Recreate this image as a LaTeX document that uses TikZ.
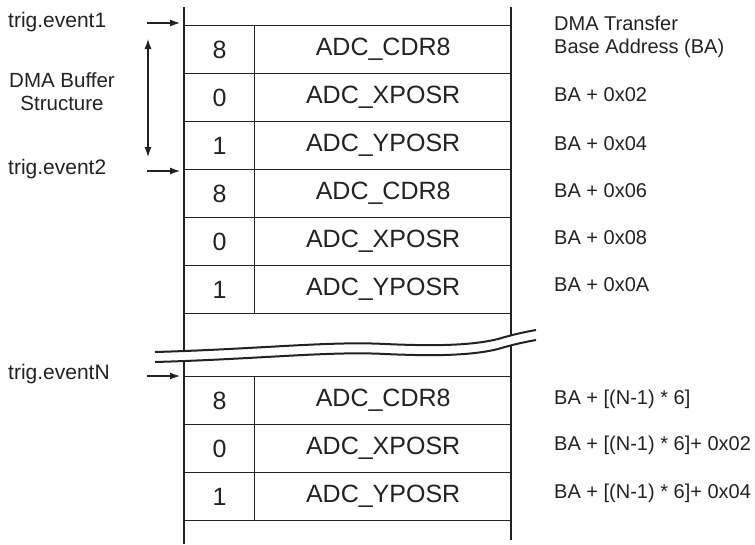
\documentclass[tikz,border=0pt]{standalone}
\usepackage{fontspec}
\setmainfont{Liberation Sans}
\usetikzlibrary{arrows.meta}
\definecolor{ink}{HTML}{222222}
\begin{document}
\begin{tikzpicture}[x=1pt,y=-1pt,
  numcell/.style={draw=ink, line width=1.3pt, minimum width=70pt, minimum height=48pt,
    inner sep=0pt, anchor=north west, font=\fontsize{25}{29}\selectfont, text=ink},
  namecell/.style={numcell, minimum width=257pt},
  lbl/.style={anchor=west, font=\fontsize{21}{25}\selectfont, text=ink, inner sep=0pt},
  rlbl/.style={lbl, font=\fontsize{20}{24}\selectfont},
  evarrow/.style={-{Latex[length=10pt,width=7pt]}, line width=1.1pt, draw=ink},
  rail/.style={line width=2.2pt, draw=ink},
  wave/.style={line width=2pt, draw=ink}]
\useasboundingbox (0,0) rectangle (755,544);

% top block
\foreach \i/\n/\t in {0/8/ADC\_CDR8,1/0/ADC\_XPOSR,2/1/ADC\_YPOSR,3/8/ADC\_CDR8,4/0/ADC\_XPOSR,5/1/ADC\_YPOSR}{
  \node[numcell] (n\i) at (184,25+48*\i) {\n};
  \node[namecell] (c\i) at (254,25+48*\i) {\t};
}
% bottom block
\foreach \i/\n/\t in {0/8/ADC\_CDR8,1/0/ADC\_XPOSR,2/1/ADC\_YPOSR}{
  \node[numcell] (m\i) at (184,376+48*\i) {\n};
  \node[namecell] (d\i) at (254,376+48*\i) {\t};
}

% rails
\coordinate (lt) at (184,7);
\coordinate (lb) at (184,544);
\coordinate (rt) at (511,7);
\coordinate (rb) at (511,540);
\draw[rail] (lt) -- (lb);
\draw[rail] (rt) -- (rb);

% break
\fill[white] (155,352) .. controls (260,349) and (330,341) .. (385,344)
  .. controls (430,346) and (470,346) .. (498,339)
  .. controls (515,334) and (525,332) .. (536,330)
  -- (536,340) .. controls (525,342) and (515,344) .. (498,349)
  .. controls (470,356) and (430,356) .. (385,354)
  .. controls (330,351) and (260,359) .. (155,362) -- cycle;
\foreach \s in {0,10}{
  \draw[wave, yshift=-\s pt] (155,352) .. controls (260,349) and (330,341) .. (385,344)
    .. controls (430,346) and (470,346) .. (498,339)
    .. controls (515,334) and (525,332) .. (536,330);
}

% left labels and arrows
\node[lbl] (e1) at (8,22) {trig.event1};
\node[lbl] (e2) at (8,169) {trig.event2};
\node[lbl] (eN) at (8,374) {trig.eventN};
\coordinate (a1s) at (147,23); \coordinate (a1e) at (180,23);
\coordinate (a2s) at (147,171); \coordinate (a2e) at (180,171);
\coordinate (aNs) at (147,376); \coordinate (aNe) at (180,376);
\draw[evarrow] (a1s) -- (a1e);
\draw[evarrow] (a2s) -- (a2e);
\draw[evarrow] (aNs) -- (aNe);

\node[font=\fontsize{20.5}{23}\selectfont, text=ink, align=center, inner sep=0pt] (dbs) at (62,92) {DMA Buffer\\Structure};
\coordinate (bt) at (148,39); \coordinate (bb) at (148,157);
\draw[{Latex[length=10pt,width=7pt]}-{Latex[length=10pt,width=7pt]}, line width=1.1pt, draw=ink] (bt) -- (bb);

% right labels
\node[rlbl] (r0) at (554,23) {DMA Transfer};
\node[rlbl] (r0b) at (554,48) {Base Address (BA)};
\node[rlbl] (r1) at (554,95) {BA + 0x02};
\node[rlbl] (r2) at (554,144) {BA + 0x04};
\node[rlbl] (r3) at (554,191) {BA + 0x06};
\node[rlbl] (r4) at (554,238) {BA + 0x08};
\node[rlbl] (r5) at (554,285) {BA + 0x0A};
\node[rlbl] (s0) at (554,399) {BA + [(N-1) * 6]};
\node[rlbl] (s1) at (554,445) {BA + [(N-1) * 6]+ 0x02};
\node[rlbl] (s2) at (554,493) {BA + [(N-1) * 6]+ 0x04};
\end{tikzpicture}
\end{document}
